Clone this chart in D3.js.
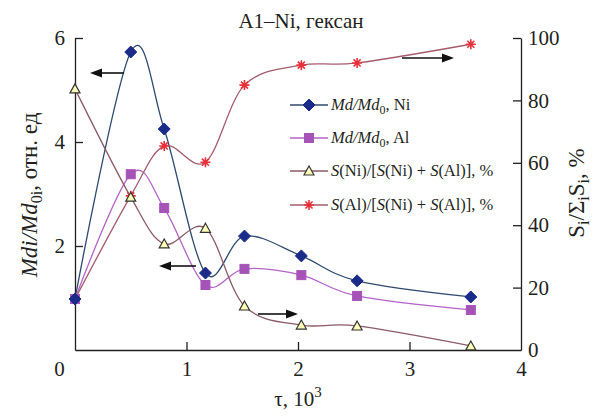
<!DOCTYPE html>
<html><head><meta charset="utf-8"><script src="https://cdn.jsdelivr.net/npm/d3@7"></script>
<style>
#c text, #c tspan, #c .tick text { font-family: "Liberation Serif", "Times New Roman", serif !important; }
</style></head><body style="margin:0">
<div style="position:relative;width:595px;height:419px">
<svg id="c" width="595" height="419" style="position:absolute;left:0;top:0"></svg>
</div>
<script>
const tau = [0, 0.5, 0.8, 1.17, 1.52, 2.03, 2.53, 3.55];
const mdNi = [0.98, 5.73, 4.25, 1.48, 2.19, 1.81, 1.33, 1.02];
const mdAl = [0.98, 3.38, 2.73, 1.25, 1.56, 1.44, 1.04, 0.77];
const sNi = [83.7, 49.0, 34.0, 39.0, 14.1, 8.0, 7.7, 1.3];
const sAl = [16.3, 49.4, 65.4, 60.2, 84.9, 91.3, 92.0, 98.0];
const xTicks = [0, 1, 2, 3, 4];
const yLeftTicks = [2, 4, 6];
const yRightTicks = [0, 20, 40, 60, 80, 100];

const FONT = "Liberation Serif";
const svg = d3.select("#c");
const x = d3.scaleLinear([0, 4], [75, 521]);
const yL = d3.scaleLinear([0, 6], [350, 38]);
const yR = d3.scaleLinear([0, 100], [350, 38]);

function styleAxis(g){
  g.attr("font-family", null).attr("font-size", null);
  g.select(".domain").attr("stroke","#231f20").attr("stroke-width",1.3);
  g.selectAll(".tick line").attr("stroke","#231f20").attr("stroke-width",1.3);
  g.selectAll(".tick text").attr("font-size",21).attr("font-family",FONT).attr("fill","#231f20");
}
const gx = svg.append("g").attr("transform","translate(0,350)")
  .call(d3.axisBottom(x).tickValues(xTicks).tickFormat(d3.format("d")).tickSizeInner(-8).tickSizeOuter(0).tickPadding(11));
styleAxis(gx);
gx.selectAll(".tick text").filter(d=>d===0).attr("dx",-16);
gx.selectAll(".tick line").filter(d=>d===0||d===4).remove();
const gl = svg.append("g").attr("transform","translate(75,0)")
  .call(d3.axisLeft(yL).tickValues(yLeftTicks).tickFormat(d3.format("d")).tickSizeInner(-8).tickSizeOuter(0).tickPadding(10));
styleAxis(gl);
const gr = svg.append("g").attr("transform","translate(521,0)")
  .call(d3.axisRight(yR).tickValues(yRightTicks).tickFormat(d3.format("d")).tickSizeInner(-8).tickSizeOuter(0).tickPadding(7));
styleAxis(gr);
gr.selectAll(".tick line").filter(d=>d===0).remove();

const series = [
  {vals: mdNi, y: yL, line:"#2e4a6e", mk:"diamond", fill:"#1b2b8a", stroke:"#1b2b8a"},
  {vals: mdAl, y: yL, line:"#b463c8", mk:"square", fill:"#a653b8", stroke:"#a653b8"},
  {vals: sNi, y: yR, line:"#8a5a66", mk:"triangle", fill:"#ffffb8", stroke:"#333"},
  {vals: sAl, y: yR, line:"#a45c6c", mk:"star", fill:"#e8303a", stroke:"#e8303a"}
];
function marker(g, type, cx, cy, s){
  if(type==="diamond"){
    g.append("path").attr("d",`M${cx},${cy-6}L${cx+6},${cy}L${cx},${cy+6}L${cx-6},${cy}Z`).attr("fill",s.fill).attr("stroke",s.stroke);
  } else if(type==="square"){
    g.append("rect").attr("x",cx-4.5).attr("y",cy-4.5).attr("width",9).attr("height",9).attr("fill",s.fill).attr("stroke",s.stroke);
  } else if(type==="triangle"){
    g.append("path").attr("d",`M${cx},${cy-5}L${cx+5},${cy+4}L${cx-5},${cy+4}Z`).attr("fill",s.fill).attr("stroke",s.stroke).attr("stroke-width",1.2);
  } else {
    const r=5; let d="";
    for(let k=0;k<4;k++){const a=k*Math.PI/4; d+=`M${cx-r*Math.cos(a)},${cy-r*Math.sin(a)}L${cx+r*Math.cos(a)},${cy+r*Math.sin(a)}`;}
    g.append("path").attr("d",d).attr("stroke",s.fill).attr("stroke-width",1.6);
  }
}
const line = d3.line().curve(d3.curveCardinal.tension(0));
series.forEach(s=>{
  const pts = tau.map((t,i)=>[x(t), s.y(s.vals[i])]);
  svg.append("path").attr("d", line(pts)).attr("fill","none").attr("stroke",s.line).attr("stroke-width",1.3);
});
series.slice().reverse().forEach(s=>{
  const g = svg.append("g");
  tau.forEach((t,i)=>marker(g, s.mk, x(t), s.y(s.vals[i]), s));
});

function arrow(x1,y,x2){
  const dir = Math.sign(x2-x1);
  svg.append("line").attr("x1",x1).attr("y1",y).attr("x2",x2-dir*8).attr("y2",y).attr("stroke","#111").attr("stroke-width",1.6);
  svg.append("path").attr("d",`M${x2},${y}L${x2-dir*12},${y-4.5}L${x2-dir*12},${y+4.5}Z`).attr("fill","#111");
}
arrow(124,73,90);
arrow(196,266,159);
arrow(258,314,298);
arrow(402,58,454);

function txt(sel){ return sel.append("text").attr("font-family",FONT).attr("fill","#231f20"); }

const legend = [
  {s:series[0], parts:[["Md/Md","i"],["0","sub"],[", Ni",""]]},
  {s:series[1], parts:[["Md/Md","i"],["0","sub"],[", Al",""]]},
  {s:series[2], parts:[["S","i"],["(Ni)/[",""],["S","i"],["(Ni) + ",""],["S","i"],["(Al)], %",""]]},
  {s:series[3], parts:[["S","i"],["(Al)/[",""],["S","i"],["(Ni) + ",""],["S","i"],["(Al)], %",""]]}
];
const legY = [105, 138, 171, 205];
legend.forEach((l,i)=>{
  const y = legY[i];
  svg.append("line").attr("x1",290).attr("x2",328).attr("y1",y).attr("y2",y).attr("stroke",l.s.line).attr("stroke-width",1.3);
  marker(svg.append("g"), l.s.mk, 309, y, l.s);
  const t = txt(svg).attr("x",331).attr("y",y+5).attr("font-size",16.5);
  let prevSub = false;
  l.parts.forEach(p=>{
    const ts = t.append("tspan").text(p[0]);
    if(p[1]==="i") ts.attr("font-style","italic");
    if(p[1]==="sub"){ ts.attr("font-size",12).attr("dy",4); prevSub = true; }
    else if(prevSub){ ts.attr("dy",-4); prevSub=false; }
  });
});

txt(svg).attr("x",301).attr("y",28).attr("text-anchor","middle").attr("font-size",21).text("A1\u2013Ni, гексан");

const xl = txt(svg).attr("x",298).attr("y",406).attr("text-anchor","middle").attr("font-size",21);
xl.append("tspan").text("τ, 10");
xl.append("tspan").text("3").attr("font-size",15).attr("dy",-9);

const ylab = txt(svg).attr("transform","translate(37,195) rotate(-90)").attr("text-anchor","middle").attr("font-size",23);
ylab.append("tspan").text("Mdi/Md").attr("font-style","italic");
ylab.append("tspan").text("0i").attr("font-size",16).attr("dy",5);
ylab.append("tspan").text(", отн. ед").attr("dy",-5);

const yrl = txt(svg).attr("transform","translate(584,193) rotate(-90)").attr("text-anchor","middle").attr("font-size",23);
yrl.append("tspan").text("S");
yrl.append("tspan").text("i").attr("font-size",16).attr("dy",5);
yrl.append("tspan").text("/Σ").attr("dy",-5);
yrl.append("tspan").text("i").attr("font-size",16).attr("dy",5);
yrl.append("tspan").text("S").attr("dy",-5);
yrl.append("tspan").text("i").attr("font-size",16).attr("dy",5);
yrl.append("tspan").text(", %").attr("dy",-5);
</script></body></html>
